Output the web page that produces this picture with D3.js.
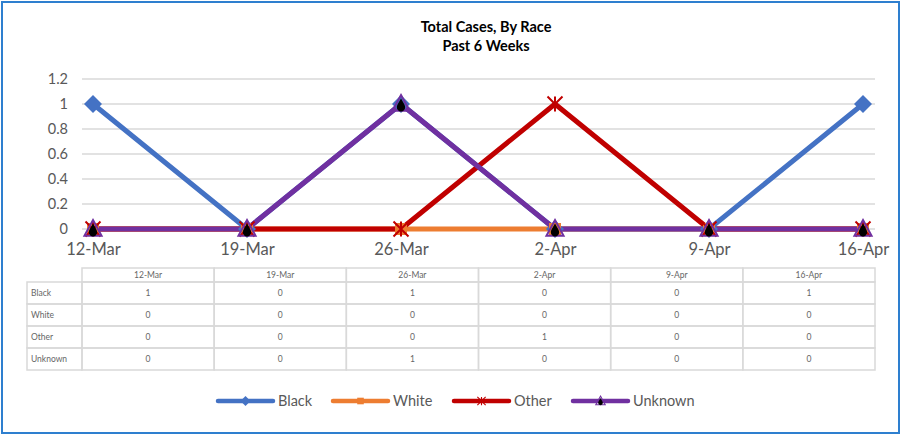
<!DOCTYPE html>
<html><head><meta charset="utf-8">
<script src="https://cdn.jsdelivr.net/npm/d3@7"></script>
<style>body{margin:0;background:#fff}svg{display:block}text{font-family:Lato,"Open Sans",sans-serif}</style>
</head><body>
<svg id="c" width="902" height="436"></svg>
<script>
const categories = ["12-Mar","19-Mar","26-Mar","2-Apr","9-Apr","16-Apr"];
const seriesNames = ["Black","White","Other","Unknown"];
const black = [1,0,1,0,0,1];
const white = [0,0,0,0,0,0];
const other = [0,0,0,1,0,0];
const unknown = [0,0,1,0,0,0];
const yTicks = [0,0.2,0.4,0.6,0.8,1,1.2];
const yTickLabels = ["0","0.2","0.4","0.6","0.8","1","1.2"];
const titleLines = ["Total Cases, By Race","Past 6 Weeks"];

const colors = {Black:"#4472C4",White:"#ED7D31",Other:"#C00000",Unknown:"#7030A0"};
const series = [
  {name:"Black",values:black},
  {name:"White",values:white},
  {name:"Other",values:other},
  {name:"Unknown",values:unknown}
];

const svg = d3.select("#c");
svg.append("rect").attr("x",2).attr("y",2).attr("width",897).attr("height",431)
  .attr("fill","#fff").attr("stroke","#2E7FCF").attr("stroke-width",2);

svg.selectAll("text.title").data(titleLines).join("text")
  .attr("x",486).attr("y",(d,i)=>32+i*19).attr("text-anchor","middle")
  .attr("font-size",14.5).attr("font-weight","bold").attr("fill","#000").text(d=>d);

const x = d3.scalePoint().domain(categories).range([93,863]);
const y = d3.scaleLinear().domain([0,1.2]).range([229,79]);

svg.append("g").selectAll("line").data(yTicks).join("line")
  .attr("x1",82).attr("x2",875).attr("y1",d=>y(d)).attr("y2",d=>y(d))
  .attr("stroke","#d9d9d9").attr("stroke-width",1.5);

const yAxis = d3.axisLeft(y).tickValues(yTicks).tickFormat((d,i)=>yTickLabels[i]).tickSize(0).tickPadding(0);
const yg = svg.append("g").attr("transform","translate(68,0)").call(yAxis);
yg.select(".domain").remove();
yg.selectAll("text").attr("font-size",14.5).attr("fill","#595959").attr("font-family","Lato,'Open Sans',sans-serif");

const xAxis = d3.axisBottom(x).tickSize(0).tickPadding(0);
const xg = svg.append("g").attr("transform","translate(0,243)").call(xAxis);
xg.select(".domain").remove();
xg.selectAll("text").attr("font-size",16.5).attr("fill","#595959").attr("font-family","Lato,'Open Sans',sans-serif");

function drawMarker(g, name, cx, cy, s) {
  const k = s || 1;
  const c = colors[name];
  if (name === "Black") {
    const r = 9*k;
    g.append("path").attr("d",`M${cx},${cy-r}L${cx+r},${cy}L${cx},${cy+r}L${cx-r},${cy}Z`).attr("fill",c);
  } else if (name === "White") {
    const r = 6*k;
    g.append("rect").attr("x",cx-r).attr("y",cy-r).attr("width",2*r).attr("height",2*r).attr("fill",c);
  } else if (name === "Other") {
    const r = 7.5*k;
    g.append("path").attr("d",`M${cx-r},${cy-r}L${cx+r},${cy+r}M${cx-r},${cy+r}L${cx+r},${cy-r}M${cx},${cy-r}L${cx},${cy+r}`)
      .attr("stroke",c).attr("stroke-width",2*k).attr("fill","none");
  } else {
    const r = 9*k;
    g.append("path").attr("d",`M${cx},${cy-r}L${cx+r*0.95},${cy+r*0.75}L${cx-r*0.95},${cy+r*0.75}Z`)
      .attr("stroke",c).attr("stroke-width",2*k).attr("fill","none");
    const d = 4.2*k;
    g.append("path").attr("d",`M${cx},${cy-d*1.3}C${cx+d*0.6},${cy-d*0.2} ${cx+d},${cy+d*0.3} ${cx+d},${cy+d*0.8}A${d},${d} 0 0 1 ${cx-d},${cy+d*0.8}C${cx-d},${cy+d*0.3} ${cx-d*0.6},${cy-d*0.2} ${cx},${cy-d*1.3}Z`)
      .attr("fill","#000");
  }
}

const line = d3.line().x((d,i)=>x(categories[i])).y(d=>y(d));
series.forEach(s => {
  svg.append("path").datum(s.values).attr("d",line).attr("fill","none")
    .attr("stroke",colors[s.name]).attr("stroke-width",5).attr("stroke-linejoin","round");
});
series.forEach(s => {
  const g = svg.append("g");
  s.values.forEach((v,i)=>drawMarker(g, s.name, x(categories[i]), y(v), 1));
});

const tX0 = 27, tColX = 82, tColW = (875-82)/categories.length;
const rowTop = 268, headH = 14, rowH = 22;
const tg = svg.append("g");
const tableStroke = "#d9d9d9";
categories.forEach((c,i)=>{
  tg.append("rect").attr("x",tColX+i*tColW).attr("y",rowTop).attr("width",tColW).attr("height",headH)
    .attr("fill","none").attr("stroke",tableStroke).attr("stroke-width",1.5);
  tg.append("text").attr("x",tColX+i*tColW+tColW/2).attr("y",rowTop+headH/2+3).attr("text-anchor","middle")
    .attr("font-size",8.5).attr("fill","#666").text(c);
});
series.forEach((s,r)=>{
  const yy = rowTop+headH+r*rowH;
  tg.append("rect").attr("x",tX0).attr("y",yy).attr("width",tColX-tX0).attr("height",rowH)
    .attr("fill","none").attr("stroke",tableStroke).attr("stroke-width",1.5);
  tg.append("text").attr("x",tX0+4).attr("y",yy+rowH/2+3).attr("font-size",8.5).attr("fill","#666").text(s.name);
  s.values.forEach((v,i)=>{
    tg.append("rect").attr("x",tColX+i*tColW).attr("y",yy).attr("width",tColW).attr("height",rowH)
      .attr("fill","none").attr("stroke",tableStroke).attr("stroke-width",1.5);
    tg.append("text").attr("x",tColX+i*tColW+tColW/2).attr("y",yy+rowH/2+3).attr("text-anchor","middle")
      .attr("font-size",8.5).attr("fill","#666").text(v);
  });
});

const legendX = [218,333,454,573];
series.forEach((s,i)=>{
  const g = svg.append("g");
  const lx = legendX[i], ly = 401;
  g.append("line").attr("x1",lx).attr("x2",lx+55).attr("y1",ly).attr("y2",ly)
    .attr("stroke",colors[s.name]).attr("stroke-width",4.5).attr("stroke-linecap","round");
  drawMarker(g, s.name, lx+27.5, ly, 0.55);
  g.append("text").attr("x",lx+60).attr("y",ly+5).attr("font-size",14.5).attr("fill","#595959").text(s.name);
});
</script>
</body></html>
